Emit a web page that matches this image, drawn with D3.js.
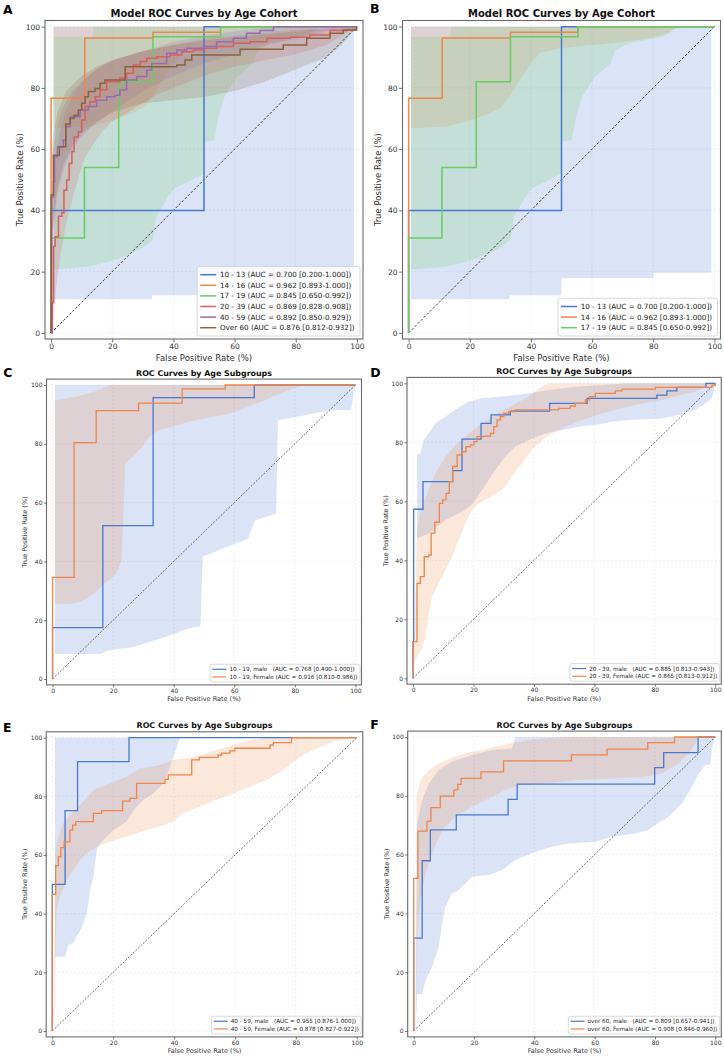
<!DOCTYPE html>
<html>
<head>
<meta charset="utf-8">
<script src="https://cdn.jsdelivr.net/npm/d3@7"></script>
<style>
  body { margin: 0; background: #fff; }
  text { font-family: "DejaVu Sans", sans-serif; }
</style>
</head>
<body>
<svg id="fig" width="724" height="1058"></svg>
<script>
/*
  ROC curves by age cohort (A, B) and by age / sex subgroup (C-F).
  Curves are [FPR %, TPR %] corner points drawn as steps,
  bands are lower / upper CI edges drawn as closed polygons.
*/

const tick_values = [0, 20, 40, 60, 80, 100];

// Seaborn "muted" colours.
const c_blue = "#4878d0", c_orange = "#ee854a", c_green = "#6acc64",
      c_red = "#d65f5f", c_purple = "#956cb4", c_brown = "#8c613c";

// ---------- Cohort panels (A, B) ----------
const cohort_names = ["10 - 13", "14 - 16", "17 - 19", "20 - 39", "40 - 59", "Over 60"];
const cohort_auc = ["0.700 [0.200-1.000]", "0.962 [0.893-1.000]", "0.845 [0.650-0.992]",
                    "0.869 [0.828-0.908]", "0.892 [0.850-0.929]", "0.876 [0.812-0.932]"];

const roc_10_13 = [[0, 0], [0, 40], [50, 100], [100, 100]];
const roc_14_16 = [[0, 0], [0, 76.6], [11, 96.3], [33.3, 98.2], [55.4, 100], [100, 100]];
const roc_17_19 = [[0, 0], [0, 31], [10.9, 54], [22.1, 82], [33.3, 96.7], [55.4, 100], [100, 100]];
const roc_20_39 = [[0, 0], [0.4, 9.8], [0.8, 28.3], [1.3, 31.4], [2.4, 38.1], [3.5, 39.2], [4.2, 46.6],
    [5.1, 49.9], [5.9, 55.3], [6.8, 59.2], [7.5, 64], [8.9, 65.7], [10, 69.5], [11.1, 73.9], [12.7, 75.5],
    [14.4, 77.1], [16, 79.3], [18.2, 82], [22.5, 83.2], [24.7, 84.8], [26.9, 87.5], [29.1, 88.6],
    [31.3, 89.7], [34.5, 90.2], [38.9, 90.7], [42.7, 91.8], [46.5, 92.4], [49.8, 92.9], [54.1, 93.5],
    [59.6, 94.6], [65, 95.1], [70.5, 96.2], [78.1, 96.5], [84.6, 97.3], [91.2, 98.7], [96.6, 99.1],
    [99.9, 100], [100, 100]];
const roc_40_59 = [[0, 0], [0.2, 44.4], [0.8, 49.3], [1.1, 57.5], [2.1, 60.8], [4, 63], [4.8, 67.3],
    [6.2, 70.6], [9.5, 72.8], [12.2, 73.9], [14.9, 76], [18.2, 77.1], [20.9, 77.6], [22.5, 79.3],
    [24.7, 82.6], [28, 83.7], [31.3, 85.8], [32.9, 88], [37.8, 91.3], [41.1, 92.4], [44.3, 92.9],
    [49.8, 93.5], [54.1, 95.1], [59.6, 96.2], [63.9, 97.8], [68.3, 98.7], [72.7, 100], [100, 100]];
const roc_over60 = [[0, 0], [0, 45], [0.8, 58], [2.7, 60.8], [4.8, 68.2], [6.2, 70], [7.5, 71.1],
    [8.9, 72.8], [10, 75], [11.1, 77.1], [12.2, 78.8], [14.4, 79.8], [16, 81.5], [17.6, 82.6],
    [24.2, 86.9], [41.1, 87.5], [43.8, 89.1], [46, 90.7], [61.8, 92.6], [75.9, 94], [83.6, 96.2],
    [91.2, 97.8], [95.5, 98.9], [99.9, 100], [100, 100]];

const ci_10_13_lo = [[0.8, 0], [0.8, 11], [33, 11], [33, 12.3], [50, 12.3], [50, 17.8], [80, 17.8],
    [80, 19.6], [99, 19.6], [99, 99], [100, 100]];
const ci_10_13_hi = [[0.8, 0], [0.8, 100], [100, 100]];
const ci_14_16_lo = [[0.8, 66.8], [13, 67.5], [17, 68.5], [22, 70], [26, 71.5], [30, 73.5], [33, 77],
    [36, 82], [38, 85], [40, 88], [43, 91.5], [50, 93], [60, 94], [70, 95], [80, 96.5], [85, 98],
    [88, 100], [100, 100]];
const ci_14_16_hi = [[0.8, 66.8], [0.8, 100], [100, 100]];
const ci_17_19_lo = [[0.8, 0], [0.8, 20.7], [12, 21.6], [20.7, 23.7], [26.2, 25.9], [30.5, 28.1],
    [33.3, 30.5], [34.4, 37.9], [38.2, 44.4], [40.3, 47.2], [44.7, 49.3], [49.9, 52], [50.2, 62.4],
    [53.4, 63], [54.5, 69.5], [56.7, 77.1], [61, 83.7], [66, 88], [67.6, 92.4], [72, 94.6],
    [82.9, 96.7], [87.8, 99.5], [89.4, 100], [100, 100]];
const ci_17_19_hi = [[0.8, 0], [0.8, 96.7], [13.5, 96.7], [14, 100], [100, 100]];
const ci_20_39_lo = [[0.3, 0], [0.8, 5], [2, 18], [3.5, 28], [5, 36], [7, 44], [9, 51], [11, 57],
    [14, 62], [17, 66], [20, 69], [25, 72], [30, 75], [35, 78], [40, 80], [50, 84], [60, 87],
    [70, 89], [80, 91], [90, 94], [100, 100]];
const ci_20_39_hi = [[0.3, 0], [0.3, 45], [1.5, 58], [3, 66], [5, 73], [8, 79], [12, 84], [16, 87],
    [20, 89], [30, 92], [40, 94], [50, 96], [60, 97], [70, 98], [80, 99], [90, 99.5], [100, 100]];
const ci_40_59_lo = [[0.3, 0], [0.5, 33], [2, 45], [4, 53], [6, 58], [9, 63], [13, 67], [18, 71],
    [24, 75], [30, 79], [40, 84], [50, 88], [60, 91], [70, 94], [80, 96], [90, 98.5], [100, 100]];
const ci_40_59_hi = [[0.3, 0], [0.3, 58], [2, 68], [4, 74], [7, 79], [10, 82], [15, 86], [20, 89],
    [30, 92], [40, 95], [50, 97], [60, 98.5], [70, 99.5], [80, 100], [100, 100]];
const ci_over60_lo = [[0.3, 0], [0.5, 33], [2, 47], [4, 55], [7, 61], [10, 65], [15, 69], [20, 72],
    [30, 75], [40, 76], [50, 77], [60, 79], [70, 82], [80, 86], [90, 90], [95, 94], [100, 100]];
const ci_over60_hi = [[0.3, 0], [0.3, 62], [2, 72], [5, 79], [10, 84], [15, 87], [20, 89], [30, 92],
    [40, 94], [50, 95.5], [60, 96.5], [70, 97.5], [80, 98.5], [90, 99.5], [100, 100]];

// ---------- Subgroup panels (C-F) ----------
const sub_labels_c = ["10 - 19, male   (AUC = 0.768 [0.490-1.000])", "10 - 19, Female (AUC = 0.916 [0.810-0.986])"];
const sub_labels_d = ["20 - 39, male   (AUC = 0.885 [0.813-0.943])", "20 - 39, Female (AUC = 0.865 [0.813-0.912])"];
const sub_labels_e = ["40 - 59, male   (AUC = 0.955 [0.876-1.000])", "40 - 59, Female (AUC = 0.878 [0.827-0.922])"];
const sub_labels_f = ["over 60, male   (AUC = 0.809 [0.657-0.941])", "over 60, Female (AUC = 0.908 [0.846-0.960])"];

// C: 10 - 19
const roc_c_male = [[0, 0], [0, 17.5], [16.6, 52.2], [33.2, 95.7], [66.6, 100], [100, 100]];
const roc_c_female = [[0, 0], [0, 34.6], [7.1, 80.4], [14.4, 91.3], [28.4, 93.8], [42.8, 98.7], [57, 100], [100, 100]];
const ci_c_male_lo = [[0.8, 0], [0.8, 8.5], [15.6, 8.5], [18.8, 9.9], [26.4, 10.8], [34.1, 13.3],
    [40.6, 15.5], [43.9, 16.9], [48.8, 18], [49.6, 41.6], [59.2, 45.6], [64.6, 47.8], [66.8, 53.9],
    [73.8, 56.3], [74.4, 88.1], [81, 89.2], [86.5, 90.4], [92, 91.5], [98.5, 91.5], [100, 100]];
const ci_c_male_hi = [[0.8, 0], [0.8, 100], [100, 100]];
const ci_c_female_lo = [[0.8, 0], [0.8, 25.5], [5.7, 25.5], [8.9, 26.3], [11.1, 27.4], [13.9, 29.1],
    [16.6, 32], [19.3, 34.2], [21, 35.9], [22.8, 40.5], [24, 73.4], [26.4, 75.6], [29.7, 79],
    [31.9, 82.4], [35.2, 84.7], [39.5, 85.8], [45, 87.5], [50.4, 88.7], [59.2, 90.4], [64.6, 92.6],
    [70.1, 94.9], [75.5, 97.2], [81, 99.4], [83.2, 100], [100, 100]];
const ci_c_female_hi = [[0.8, 0], [0.8, 94.7], [7.9, 96.1], [12.2, 97.3], [15.5, 98.4], [18.8, 100], [100, 100]];

// D: 20 - 39
const roc_d_male = [[0, 0], [0, 12.4], [0.2, 57.3], [3.3, 66.7], [13.1, 70.4], [16.2, 81.1], [22.5, 86.4],
    [25.8, 89.3], [32.2, 90.6], [45.2, 93.2], [57.6, 94.9], [80.7, 96], [84, 97.4], [87.3, 98.6],
    [96.9, 100], [100, 100]];
const roc_d_female = [[0, 0], [0, 12.4], [1.3, 32.2], [2.4, 34.5], [3.7, 41.2], [5.2, 41.8], [6, 49.2],
    [7.2, 52.9], [8.7, 59.3], [9.8, 60.5], [10.9, 62.7], [12, 66.7], [13.1, 71.8], [14.6, 75.7],
    [16.2, 76.8], [17.5, 78.5], [19, 79.1], [20.1, 80.2], [21.2, 81.9], [23.4, 82.1], [25.6, 83],
    [26.7, 85.3], [27.8, 87.6], [28.9, 88.7], [30, 89.8], [31.6, 90.4], [33.8, 91], [48.2, 91.5],
    [52, 92.3], [53.7, 93.2], [57, 94.4], [58.4, 95.5], [60.3, 96.6], [66.9, 97.4], [69.1, 98],
    [80.2, 98.6], [98.9, 99.4], [100, 100]];
const ci_d_male_lo = [[1.3, 47.5], [5.2, 49], [10.7, 53.7], [16.2, 56.5], [19.5, 58.8], [22.8, 63.8],
    [25, 67.2], [27.2, 70.6], [30.5, 75.1], [33.8, 78.5], [38.3, 80.8], [43.8, 83], [49.3, 84.2],
    [54.8, 85.3], [60.3, 85.9], [65.8, 87], [71.3, 87.6], [82.4, 88.1], [87.9, 89.3], [93.4, 91],
    [96.7, 93.2], [98.9, 94.9], [100, 100]];
const ci_d_male_hi = [[1.3, 47.5], [1.3, 75.7], [2.4, 76.3], [3.5, 80.8], [5.2, 83], [7.4, 86.4],
    [10.7, 88.7], [14, 91], [18.4, 93.8], [22.8, 94.9], [29.4, 95.5], [38.3, 96.6], [44.9, 97.7],
    [54.8, 98.9], [62.5, 99.4], [71.3, 100], [100, 100]];
const ci_d_female_lo = [[0.2, 5], [1.3, 7.3], [3, 10.2], [4.1, 14.1], [5.2, 22], [6.3, 27.7], [8.5, 32.2],
    [10.7, 36.7], [12.9, 41.2], [15.1, 46.9], [17.3, 52.5], [19.5, 57], [21.7, 59.3], [25, 61],
    [29.4, 63.8], [32.7, 68.4], [36, 72.9], [39.3, 77.4], [42.6, 80.8], [45.9, 83], [50.4, 85.3],
    [55.9, 87.6], [62.5, 89.8], [71.3, 92.1], [82.4, 94.4], [93.4, 97.2], [100, 100]];
const ci_d_female_hi = [[0.2, 5], [1.3, 50], [2.5, 57], [5.2, 64], [7.4, 69.5], [10.7, 75], [14, 79],
    [18.4, 83], [22.8, 86.4], [27.2, 89.5], [32.7, 92.5], [38.3, 95.5], [42, 98.5], [45, 100], [100, 100]];

// E: 40 - 59
const roc_e_male = [[0, 0], [0, 50], [4.2, 75.1], [8.3, 91.8], [25.2, 100], [100, 100]];
const roc_e_female = [[0, 0], [0, 46.6], [1.1, 56.4], [2, 59.4], [2.8, 62.5], [3.9, 64.5], [5.8, 68.5],
    [6.7, 70.2], [7.7, 71.4], [13.5, 74.2], [16.2, 75.1], [23.1, 78.4], [25.5, 79.3], [27.7, 84.4],
    [37, 85.8], [38.1, 87.3], [45.8, 92.4], [48.3, 93.3], [54.5, 94.1], [55.6, 94.7], [58.4, 95.5],
    [60, 96.4], [71.5, 97.5], [72.6, 98.3], [78.6, 100], [100, 100]];
const ci_e_male_lo = [[0.9, 0], [0.9, 25.3], [4.2, 25.3], [5.3, 29.3], [6.9, 30.1], [8, 32.2], [9.6, 35],
    [11.3, 40.1], [12.4, 48], [13.5, 52.6], [14.6, 61.7], [15.7, 64], [17.9, 66.3], [20, 68.5],
    [22.2, 69.9], [24.4, 71.4], [26.6, 75.3], [29.9, 78.8], [33.2, 81], [36.5, 84.4], [38.7, 90.1],
    [40.9, 96.9], [42, 100]];
const ci_e_male_hi = [[0.9, 0], [0.9, 100], [42, 100]];
const ci_e_female_lo = [[0.5, 0], [1.4, 41.2], [2.5, 45.8], [4.2, 50.3], [6.9, 54.9], [9.1, 58.3],
    [11.3, 60.6], [14.6, 62.8], [18.9, 64.5], [24.4, 66.3], [31, 68.5], [35.4, 69.7], [39.8, 71.4],
    [43.1, 74.2], [48.5, 76.5], [54, 78.8], [59.5, 81], [64.9, 83.3], [70.4, 85.6], [75.9, 89],
    [81.4, 93.5], [86.9, 96.4], [92.3, 98.6], [97.8, 99.5], [100, 100]];
const ci_e_female_hi = [[0.5, 0], [0.9, 60.6], [2, 66.3], [3.6, 70.8], [5.8, 73.6], [9.1, 77], [13.5, 82.2],
    [18.9, 84.4], [24.4, 86.7], [28.8, 89.5], [35.4, 90.7], [39.8, 92.4], [44.2, 93], [48.5, 94.1],
    [54, 95.8], [59.5, 97.5], [64.9, 99.2], [70.4, 100], [100, 100]];

// F: over 60
const roc_f_male = [[0, 0], [0, 31.6], [2.8, 57.9], [5.5, 68.4], [14.1, 73.5], [31.3, 78.8], [34.3, 84],
    [79.9, 89.6], [82.9, 94.7], [94.3, 100], [100, 100]];
const roc_f_female = [[0, 0], [0, 51.9], [1.4, 68], [4.4, 71.4], [5.7, 76], [8.8, 79.9], [13.3, 82],
    [14.6, 83.9], [15.7, 85.9], [22.3, 88.1], [29.8, 91.9], [52.3, 93.9], [64.1, 95.9], [77.6, 98.1],
    [86.5, 100], [100, 100]];
const ci_f_male_lo = [[0.6, 0], [1.1, 12.6], [2.8, 12.6], [3.9, 17.3], [6.1, 21.9], [8.3, 28.7], [9.4, 36.6],
    [10.5, 42.3], [12.7, 46.8], [14.9, 48], [17.1, 50.2], [19.3, 52.5], [24.9, 53.1], [29.3, 54.8],
    [33.7, 58.2], [40.3, 61], [45.9, 62.7], [51.4, 63.8], [60.2, 64.4], [65.7, 66.1], [73.5, 67.2],
    [77.9, 68.4], [80.1, 70.1], [84.5, 72.9], [88.9, 77.4], [92.3, 83.1], [94.5, 87.6], [96.7, 90.5],
    [98.3, 90.5], [98.9, 96.1], [100, 100]];
const ci_f_male_hi = [[0.6, 0], [1.1, 70.6], [2.8, 78.6], [5, 84.2], [8.3, 88.8], [12.7, 91.6], [19.3, 93.9],
    [26, 95.6], [32.6, 96.1], [33.7, 100], [100, 100]];
const ci_f_female_lo = [[0.9, 0], [1.1, 30], [2.2, 45], [3.9, 53.6], [6.1, 60.4], [9.4, 68.4], [13.8, 72.9],
    [19.3, 76.3], [24.9, 79.1], [30.4, 82], [35.9, 83.7], [43.6, 84.2], [54.7, 85.4], [65.7, 85.9],
    [76.8, 86.5], [82.3, 87.6], [87.8, 91], [91.2, 94.4], [93.4, 97.8], [94.5, 100], [100, 100]];
const ci_f_female_hi = [[0.9, 0], [0.9, 79.4], [2.2, 85.4], [5, 88.8], [9.4, 91.6], [13.8, 93.3], [19.3, 95],
    [24.9, 96.1], [31.5, 97.8], [38.1, 99], [49.2, 100], [100, 100]];

// ---------- Build series ----------
const cohort_colors = [c_blue, c_orange, c_green, c_red, c_purple, c_brown];
const cohort_roc = [roc_10_13, roc_14_16, roc_17_19, roc_20_39, roc_40_59, roc_over60];
const cohort_lo = [ci_10_13_lo, ci_14_16_lo, ci_17_19_lo, ci_20_39_lo, ci_40_59_lo, ci_over60_lo];
const cohort_hi = [ci_10_13_hi, ci_14_16_hi, ci_17_19_hi, ci_20_39_hi, ci_40_59_hi, ci_over60_hi];
const cohort_series = cohort_names.map((n, i) => ({
    label: `${n} (AUC = ${cohort_auc[i]})`, color: cohort_colors[i],
    roc: cohort_roc[i], lo: cohort_lo[i], hi: cohort_hi[i]
}));

const sub_series = (labels, rm, rf, mlo, mhi, flo, fhi) => [
    { label: labels[0], color: c_blue, roc: rm, lo: mlo, hi: mhi },
    { label: labels[1], color: c_orange, roc: rf, lo: flo, hi: fhi }
];

// Frames are [left, right, top, bottom] in pixels; data range -2..102.
const panels = [
    { letter: "A", lx: 3, ly: 13.5, big: true, frame: [45, 363, 20.5, 339],
      title: "Model ROC Curves by Age Cohort", series: cohort_series },
    { letter: "B", lx: 370, ly: 13.3, big: true, frame: [402.5, 720.5, 20.5, 339],
      title: "Model ROC Curves by Age Cohort", series: cohort_series.slice(0, 3) },
    { letter: "C", lx: 3.3, ly: 376.7, big: false, frame: [46.5, 361.5, 379.1, 684.9],
      title: "ROC Curves by Age Subgroups",
      series: sub_series(sub_labels_c, roc_c_male, roc_c_female, ci_c_male_lo, ci_c_male_hi, ci_c_female_lo, ci_c_female_hi) },
    { letter: "D", lx: 370.3, ly: 377.3, big: false, frame: [407, 721.3, 377.4, 684.2],
      title: "ROC Curves by Age Subgroups",
      series: sub_series(sub_labels_d, roc_d_male, roc_d_female, ci_d_male_lo, ci_d_male_hi, ci_d_female_lo, ci_d_female_hi) },
    { letter: "E", lx: 3, ly: 731.7, big: false, frame: [46.2, 362.8, 731.8, 1036.9],
      title: "ROC Curves by Age Subgroups",
      series: sub_series(sub_labels_e, roc_e_male, roc_e_female, ci_e_male_lo, ci_e_male_hi, ci_e_female_lo, ci_e_female_hi) },
    { letter: "F", lx: 370.3, ly: 729.3, big: false, frame: [407.7, 721.3, 731.1, 1036.9],
      title: "ROC Curves by Age Subgroups",
      series: sub_series(sub_labels_f, roc_f_male, roc_f_female, ci_f_male_lo, ci_f_male_hi, ci_f_female_lo, ci_f_female_hi) }
];

const svg = d3.select("#fig");

const draw_panel = (p) => {
    const [left, right, top, bottom] = p.frame;
    const big = p.big;
    const x = d3.scaleLinear().domain([-2, 102]).range([left, right]);
    const y = d3.scaleLinear().domain([-2, 102]).range([bottom, top]);
    const g = svg.append("g");

    // Faint dashed grid.
    const grid = g.append("g").attr("stroke", "#e2e2e2").attr("stroke-width", 0.6)
        .attr("stroke-dasharray", "2,2");
    grid.selectAll(".gx").data(tick_values).join("line").attr("class", "gx")
        .attr("x1", d => x(d)).attr("x2", d => x(d)).attr("y1", top).attr("y2", bottom);
    grid.selectAll(".gy").data(tick_values).join("line").attr("class", "gy")
        .attr("y1", d => y(d)).attr("y2", d => y(d)).attr("x1", left).attr("x2", right);

    const line = d3.line().x(d => x(d[0])).y(d => y(d[1]));
    const step = d3.line().curve(d3.curveStepAfter).x(d => x(d[0])).y(d => y(d[1]));

    // Confidence bands.
    g.append("g").selectAll("path").data(p.series).join("path")
        .attr("d", s => line(s.hi.concat(s.lo.slice().reverse())) + "Z")
        .attr("fill", s => s.color).attr("fill-opacity", 0.2);

    // Chance line.
    g.append("path").attr("d", line([[0, 0], [100, 100]]))
        .attr("fill", "none").attr("stroke", "#111").attr("stroke-width", big ? 0.8 : 0.6)
        .attr("stroke-dasharray", big ? "2.5,1.8" : "2,1.5");

    // ROC curves.
    g.append("g").selectAll("path").data(p.series).join("path")
        .attr("d", s => step(s.roc))
        .attr("fill", "none").attr("stroke", s => s.color)
        .attr("stroke-width", big ? 1.5 : 1.3);

    // Frame.
    g.append("rect").attr("x", left).attr("y", top)
        .attr("width", right - left).attr("height", bottom - top)
        .attr("fill", "none").attr("stroke", "#6a6a6a").attr("stroke-width", 1.1);

    // Axes.
    const fs = big ? 7.5 : 6;
    const tsize = big ? 3.5 : 2.5;
    const gx = g.append("g").attr("transform", `translate(0,${bottom})`)
        .call(d3.axisBottom(x).tickValues(tick_values).tickSize(tsize).tickPadding(1.5));
    const gy = g.append("g").attr("transform", `translate(${left},0)`)
        .call(d3.axisLeft(y).tickValues(tick_values).tickSize(tsize).tickPadding(1.5));
    [gx, gy].forEach(a => {
        a.select(".domain").remove();
        a.attr("font-size", fs).attr("font-family", "DejaVu Sans");
        a.selectAll("line").attr("stroke", "#555").attr("stroke-width", 0.8);
        a.selectAll("text").attr("fill", "#333");
    });

    // Axis labels and title.
    const afs = big ? 8.5 : 6.5;
    const cx = (left + right) / 2, cy = (top + bottom) / 2;
    g.append("text").attr("x", cx).attr("y", bottom + (big ? 22.3 : 16.4))
        .attr("text-anchor", "middle").attr("font-size", afs).attr("fill", "#333")
        .text("False Positive Rate (%)");
    g.append("text").attr("transform", `translate(${left - (big ? 22 : 19.2)},${cy}) rotate(-90)`)
        .attr("text-anchor", "middle").attr("font-size", afs).attr("fill", "#333")
        .text("True Positive Rate (%)");
    g.append("text").attr("x", cx).attr("y", top - 3.6)
        .attr("text-anchor", "middle").attr("font-size", big ? 10 : 7.9)
        .attr("font-weight", "bold").attr("fill", "#111").text(p.title);
    g.append("text").attr("x", p.lx).attr("y", p.ly)
        .attr("font-family", "Liberation Sans, Arial, sans-serif")
        .attr("font-size", 12.5).attr("font-weight", "bold").attr("fill", "#000").text(p.letter);

    // Legend, lower right.
    const lfs = big ? 7.2 : 5.7, row = big ? 10.6 : 7.7;
    const hx0 = big ? 3 : 2.3, hx1 = big ? 19 : 16.3, tx = big ? 22.7 : 19.3;
    const vpad = big ? 3 : 1.1;
    const lg = g.append("g");
    const box = lg.append("rect");
    const texts = lg.selectAll("text").data(p.series).join("text")
        .attr("xml:space", "preserve").style("white-space", "pre")
        .attr("font-size", lfs).attr("fill", "#222").text(s => s.label);
    const tw = d3.max(texts.nodes(), n => n.getComputedTextLength());
    const bw = tx + tw + (big ? 5.5 : 2.5);
    const bh = p.series.length * row + 2 * vpad;
    const bx = right - (big ? 3 : 1.5) - bw;
    const by = bottom - 3 - bh;
    box.attr("x", bx).attr("y", by).attr("width", bw).attr("height", bh).attr("rx", 2)
        .attr("fill", "#fff").attr("fill-opacity", 0.8)
        .attr("stroke", "#cccccc").attr("stroke-width", 0.7);
    texts.attr("x", bx + tx).attr("y", (s, i) => by + vpad + row * (i + 0.5)).attr("dy", "0.35em");
    lg.selectAll("line").data(p.series).join("line")
        .attr("x1", bx + hx0).attr("x2", bx + hx1)
        .attr("y1", (s, i) => by + vpad + row * (i + 0.5))
        .attr("y2", (s, i) => by + vpad + row * (i + 0.5))
        .attr("stroke", s => s.color).attr("stroke-width", big ? 1.5 : 1.2);
};

panels.forEach(draw_panel);
</script>
</body>
</html>
